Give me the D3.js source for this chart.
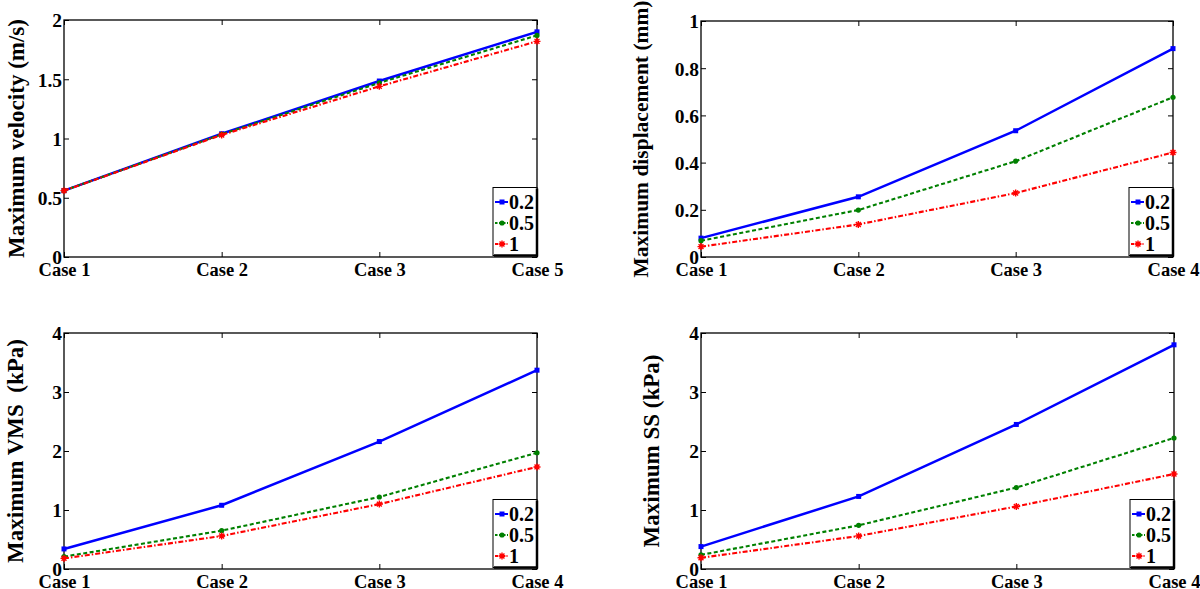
<!DOCTYPE html>
<html><head><meta charset="utf-8">
<script src="https://cdn.jsdelivr.net/npm/d3@7"></script>
<style>
html,body{margin:0;padding:0;background:#fff;}
svg text{font-family:"Liberation Serif","Times New Roman",serif;font-weight:bold;fill:#000;}
</style></head>
<body>
<svg id="chart" width="1200" height="589"></svg>
<script>
// ---- data ----
const casesVelocity = ["Case 1", "Case 2", "Case 3", "Case 5"];
const casesOther = ["Case 1", "Case 2", "Case 3", "Case 4"];
const seriesNames = ["0.2", "0.5", "1"];

const velocity02 = [0.56, 1.04, 1.485, 1.90];
const velocity05 = [0.56, 1.035, 1.47, 1.87];
const velocity1 = [0.56, 1.03, 1.44, 1.82];

const displacement02 = [0.080, 0.255, 0.535, 0.883];
const displacement05 = [0.069, 0.199, 0.406, 0.677];
const displacement1 = [0.044, 0.138, 0.271, 0.443];

const vms02 = [0.34, 1.08, 2.16, 3.37];
const vms05 = [0.21, 0.65, 1.22, 1.97];
const vms1 = [0.18, 0.56, 1.10, 1.73];

const ss02 = [0.38, 1.23, 2.45, 3.80];
const ss05 = [0.24, 0.74, 1.38, 2.22];
const ss1 = [0.19, 0.56, 1.06, 1.61];

const ticksVelocity = [0, 0.5, 1, 1.5, 2];
const ticksDisplacement = [0, 0.2, 0.4, 0.6, 0.8, 1];
const ticksStress = [0, 1, 2, 3, 4];

const titleVelocity = "Maximum velocity (m/s)";
const titleDisplacement = "Maximum displacement (mm)";
const titleVMS = "Maximum VMS  (kPa)";
const titleSS = "Maximum SS (kPa)";

// ---- styles ----
const colors = ["#0000ff", "#008000", "#ff0000"];
const dashes = [null, "4,2.5", "5,2,1.5,2"];

const panels = [
  {x0: 64, x1: 537, y0: 20, y1: 257, cats: casesVelocity, series: [velocity02, velocity05, velocity1], ticks: ticksVelocity, ymax: 2, title: titleVelocity, tx: 24, tfs: 23},
  {x0: 701, x1: 1173, y0: 21, y1: 257, cats: casesOther, series: [displacement02, displacement05, displacement1], ticks: ticksDisplacement, ymax: 1, title: titleDisplacement, tx: 648, tfs: 21.5},
  {x0: 64, x1: 537, y0: 333, y1: 569, cats: casesOther, series: [vms02, vms05, vms1], ticks: ticksStress, ymax: 4, title: titleVMS, tx: 23, tfs: 23},
  {x0: 701, x1: 1174, y0: 333, y1: 569, cats: casesOther, series: [ss02, ss05, ss1], ticks: ticksStress, ymax: 4, title: titleSS, tx: 659, tfs: 23}
];

const svg = d3.select("#chart");

function marker(g, i, x, y, c) {
  if (i === 0) {
    g.append("rect").attr("x", x - 2.5).attr("y", y - 2.5).attr("width", 5).attr("height", 5).attr("fill", c);
  } else if (i === 1) {
    g.append("circle").attr("cx", x).attr("cy", y).attr("r", 2.6).attr("fill", c);
  } else {
    const s = 3.5;
    g.append("path").attr("d", `M${x-s},${y}L${x+s},${y}M${x},${y-s}L${x},${y+s}M${x-s*0.7},${y-s*0.7}L${x+s*0.7},${y+s*0.7}M${x-s*0.7},${y+s*0.7}L${x+s*0.7},${y-s*0.7}`)
      .attr("stroke", c).attr("stroke-width", 1.4).attr("fill", "none");
  }
}

panels.forEach(p => {
  const g = svg.append("g");
  const x = d3.scalePoint().domain(p.cats).range([p.x0, p.x1]);
  const y = d3.scaleLinear().domain([0, p.ymax]).range([p.y1, p.y0]);

  const fmt = d => d3.format("~g")(d);
  const ax = g.append("g").attr("transform", `translate(0,${p.y1})`)
    .call(d3.axisBottom(x).tickSizeInner(-5).tickSizeOuter(0));
  ax.selectAll("text").attr("font-size", 18.5).attr("y", 19).attr("dy", 0);
  g.append("g").attr("transform", `translate(0,${p.y0})`)
    .call(d3.axisTop(x).tickSizeInner(-5).tickSizeOuter(0).tickFormat(""));
  const ay = g.append("g").attr("transform", `translate(${p.x0},0)`)
    .call(d3.axisLeft(y).tickValues(p.ticks).tickFormat(fmt).tickSizeInner(-5).tickSizeOuter(0).tickPadding(2));
  ay.selectAll("text").attr("font-size", 19.5).attr("dy", "0.35em");
  g.append("g").attr("transform", `translate(${p.x1},0)`)
    .call(d3.axisRight(y).tickValues(p.ticks).tickFormat("").tickSizeInner(-5).tickSizeOuter(0));
  g.selectAll(".domain").remove();
  g.selectAll(".tick line").attr("stroke", "#000").attr("stroke-width", 1);
  g.append("rect").attr("x", p.x0).attr("y", p.y0).attr("width", p.x1 - p.x0).attr("height", p.y1 - p.y0)
    .attr("fill", "none").attr("stroke", "#000").attr("stroke-width", 1.3);

  const line = d3.line().x((d, i) => x(p.cats[i])).y(d => y(d));
  p.series.forEach((vals, si) => {
    g.append("path").datum(vals).attr("d", line).attr("fill", "none")
      .attr("stroke", colors[si]).attr("stroke-width", si === 0 ? 2.5 : 2.1)
      .attr("stroke-dasharray", dashes[si]);
    vals.forEach((v, i) => marker(g, si, x(p.cats[i]), y(v), colors[si]));
  });

  g.append("text").attr("transform", `translate(${p.tx},${(p.y0 + p.y1) / 2}) rotate(-90)`)
    .attr("text-anchor", "middle").attr("font-size", p.tfs).style("white-space", "pre").text(p.title);

  const lw = 44, lh = 68;
  const lx = p.x1 - lw, ly = p.y1 - lh - 1.5;
  const lg = g.append("g");
  lg.append("rect").attr("x", lx).attr("y", ly).attr("width", lw).attr("height", lh)
    .attr("fill", "#fff").attr("stroke", "#000").attr("stroke-width", 1);
  lg.append("line").attr("x1", lx + lw).attr("x2", lx + lw).attr("y1", ly + 1).attr("y2", ly + lh + 1)
    .attr("stroke", "#000").attr("stroke-width", 2.5);
  lg.append("line").attr("x1", lx + 1).attr("x2", lx + lw + 1).attr("y1", ly + lh).attr("y2", ly + lh)
    .attr("stroke", "#000").attr("stroke-width", 2.5);
  seriesNames.forEach((name, si) => {
    const yy = ly + 14.5 + si * 21;
    lg.append("line").attr("x1", lx + 2).attr("x2", lx + 15).attr("y1", yy).attr("y2", yy)
      .attr("stroke", colors[si]).attr("stroke-width", 2).attr("stroke-dasharray", si === 1 ? "2.5,1.5" : (si === 2 ? "3,1.5,1,1.5" : null));
    marker(lg, si, lx + 9, yy, colors[si]);
    lg.append("text").attr("x", lx + 16).attr("y", yy).attr("dy", "0.35em").attr("font-size", 20).text(name);
  });
});
</script>
</body></html>
